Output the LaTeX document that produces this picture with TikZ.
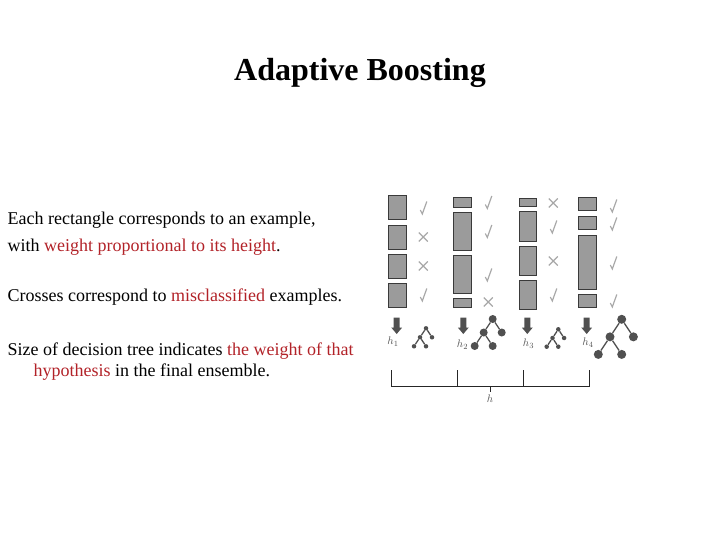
\documentclass[tikz,border=0pt]{standalone}
\usepackage{fontspec}
\setmainfont{Liberation Serif}
\definecolor{hl}{RGB}{178,34,40}
\definecolor{rectfill}{RGB}{155,155,155}
\definecolor{rectline}{RGB}{58,58,58}
\definecolor{markgray}{RGB}{168,168,168}
\definecolor{treegray}{RGB}{80,80,80}
\tikzset{
  body/.style={anchor=base west,inner sep=0pt,font=\fontsize{18}{22}\selectfont},
  ex/.style={fill=rectfill,draw=rectline,line width=1pt},
  mk/.style={draw=markgray,line width=1.2pt},
  chk/.pic={\draw[mk] (-3,2) -- (-1,6) -- (3.5,-6.5);},
  crs/.pic={\draw[mk] (-4.5,-4.5) -- (4.5,4.5) (-4.5,4.5) -- (4.5,-4.5);},
  tn/.style={circle,fill=treegray,draw=none,inner sep=0pt},
  te/.style={draw=treegray,line width=1.3pt},
  arr/.style={fill=treegray},
  hl/.style={font=\fontsize{11}{12}\selectfont,text=treegray,inner sep=0pt},
  brk/.style={draw=black!85,line width=1pt}
}
\newcommand\mytree[5]{%
  \begin{scope}[shift={(#2,#3)}]
    \node[tn,minimum size=#5] (#1t) at (0,0) {};
    \node[tn,minimum size=#5] (#1m) at ({-#4},{1.5*#4}) {};
    \node[tn,minimum size=#5] (#1r) at ({#4},{1.5*#4}) {};
    \node[tn,minimum size=#5] (#1l) at ({-2*#4},{3*#4}) {};
    \node[tn,minimum size=#5] (#1b) at (0,{3*#4}) {};
    \draw[te] (#1t) -- (#1m) (#1t) -- (#1r) (#1m) -- (#1l) (#1m) -- (#1b);
  \end{scope}}
\newcommand\myarrow[1]{%
  \fill[arr] ({#1-3},317.5) -- ({#1+3},317.5) -- ({#1+3},327.5) -- ({#1+5.5},327.5)
    -- (#1,334) -- ({#1-5.5},327.5) -- ({#1-3},327.5) -- cycle;}
\begin{document}
\begin{tikzpicture}[x=1pt,y=-1pt]
\useasboundingbox (0,0) rectangle (720,540);

\node[anchor=base,inner sep=0pt,font=\fontsize{32}{38}\selectfont\bfseries] (title) at (360,81) {Adaptive Boosting};

\node[body] (l1) at (7.5,225) {Each rectangle corresponds to an example,};
\node[body] (l2) at (7.5,251.5) {with \textcolor{hl}{weight proportional to its height}.};
\node[body] (l3) at (7.5,301.5) {Crosses correspond to \textcolor{hl}{misclassified} examples.};
\node[body] (l4) at (7.5,355) {Size of decision tree indicates \textcolor{hl}{the weight of that}};
\node[body] (l5) at (33.5,376) {\textcolor{hl}{hypothesis} in the final ensemble.};

% column 1
\draw[ex] (388.3,196) rectangle (406.7,220);
\draw[ex] (388.3,225.7) rectangle (406.7,249);
\draw[ex] (388.3,254.3) rectangle (406.7,278.3);
\draw[ex] (388.3,283.3) rectangle (406.7,307.3);
\pic at (423.3,208) {chk};
\pic at (423.3,237) {crs};
\pic at (423.3,266) {crs};
\pic at (423.3,295) {chk};

% column 2
\draw[ex] (453.3,197.3) rectangle (471.7,207.3);
\draw[ex] (453.3,212.7) rectangle (471.7,250);
\draw[ex] (453.3,255) rectangle (471.7,293);
\draw[ex] (453.3,298.3) rectangle (471.7,307.8);
\pic at (488.3,202.5) {chk};
\pic at (488.3,231.5) {chk};
\pic at (488.3,275) {chk};
\pic at (488.3,302) {crs};

% column 3
\draw[ex] (519,199) rectangle (536.7,206.7);
\draw[ex] (519,211.7) rectangle (536.7,241.7);
\draw[ex] (519,246) rectangle (536.7,275);
\draw[ex] (519,280) rectangle (536.7,309);
\pic at (553.3,203) {crs};
\pic at (553.3,227) {chk};
\pic at (553.3,261) {crs};
\pic at (553.3,295) {chk};

% column 4
\draw[ex] (578.3,197.3) rectangle (596.7,210.7);
\draw[ex] (578.3,216.7) rectangle (596.7,230);
\draw[ex] (578.3,235) rectangle (596.7,289);
\draw[ex] (578.3,294.3) rectangle (596.7,307.7);
\pic at (613.3,206) {chk};
\pic at (613.3,224) {chk};
\pic at (613.3,263) {chk};
\pic at (613.3,301) {chk};

% arrows
\myarrow{396.7}
\myarrow{463.3}
\myarrow{527.3}
\myarrow{586.7}

% labels
\node[hl] (h1) at (393,342) {$h_1$};
\node[hl] (h2) at (462.5,344.5) {$h_2$};
\node[hl] (h3) at (528.5,344) {$h_3$};
\node[hl] (h4) at (588,343) {$h_4$};

% trees
\mytree{a}{426}{328.3}{6}{4.5pt}
\mytree{b}{492.7}{319}{9}{8pt}
\mytree{c}{558.3}{329.3}{5.8}{4.5pt}
\mytree{d}{621.7}{319.3}{11.7}{9pt}

% bracket
\coordinate (b1t) at (391.7,370);
\coordinate (b1b) at (391.7,386);
\coordinate (b2t) at (457.3,370);
\coordinate (b2b) at (457.3,386);
\coordinate (b3t) at (523.3,370);
\coordinate (b3b) at (523.3,386);
\coordinate (b4t) at (589.3,370);
\coordinate (b4b) at (589.3,386);
\coordinate (bc) at (490,386);
\coordinate (bd) at (490,391.5);
\draw[brk] (b1t) -- (b1b) -- (b4b) -- (b4t);
\draw[brk] (b2t) -- (b2b) (b3t) -- (b3b) (bc) -- (bd);
\node[hl] (hh) at (490,398.5) {$h$};
\end{tikzpicture}
\end{document}
